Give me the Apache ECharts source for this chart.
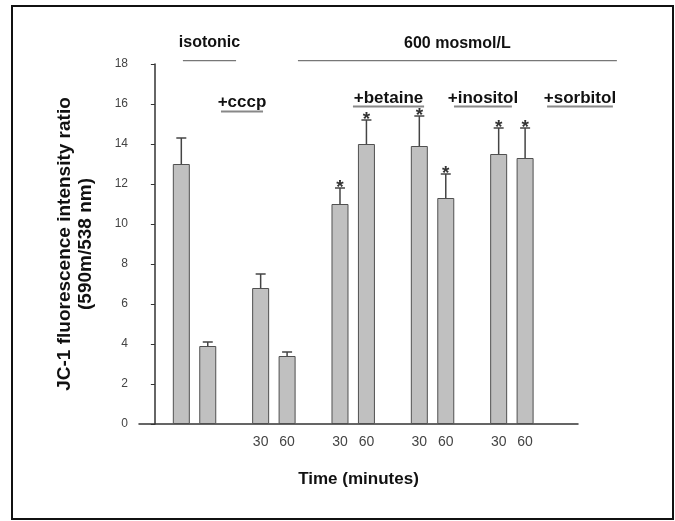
<!DOCTYPE html>
<html>
<head>
<meta charset="utf-8">
<script src="https://cdn.jsdelivr.net/npm/echarts@6/dist/echarts.min.js"></script>
<style>
html, body { margin: 0; padding: 0; background: #fff; }
#chart { width: 675px; height: 521px; }
</style>
</head>
<body>
<div id="chart"></div>
<script>
// bar positions on a numeric x scale (gaps between groups)
const xPos = [1, 2, 4, 5, 7, 8, 10, 11, 13, 14];
const means = [13.0, 3.9, 6.8, 3.4, 11.0, 14.0, 13.9, 11.3, 13.5, 13.3];
const upper = [14.3, 4.1, 7.5, 3.6, 11.8, 15.2, 15.4, 12.5, 14.8, 14.8];
const star = [false, false, false, false, true, true, true, true, true, true];
const timeLabels = { 4: '30', 5: '60', 7: '30', 8: '60', 10: '30', 11: '60', 13: '30', 14: '60' };

// group annotations
const groupNames = ['isotonic', '600 mosmol/L', '+cccp', '+betaine', '+inositol', '+sorbitol'];
const groupFrom = [1.06, 5.41, 2.5, 7.49, 11.31, 14.83];
const groupTo = [3.07, 17.47, 4.09, 10.18, 13.5, 17.32];
const groupLineY = [18.17, 18.17, 15.63, 15.88, 15.88, 15.88];
const groupTextY = [19.08, 19.02, 16.1, 16.3, 16.3, 16.3];

const chart = echarts.init(document.getElementById('chart'));
const font = 'Liberation Sans, Arial, sans-serif';

const barData = xPos.map((x, i) => [x, means[i]]);
const errData = xPos.map((x, i) => [x, means[i], upper[i], star[i] ? 1 : 0]);
const annData = groupNames.map((n, i) => [groupFrom[i], groupTo[i], groupLineY[i], groupTextY[i], i]);

chart.setOption({
  animation: false,
  graphic: [{
    type: 'rect',
    shape: { x: 12, y: 6, width: 661, height: 513 },
    style: { fill: 'none', stroke: '#111', lineWidth: 2 }
  }],
  grid: { left: 139, right: 97, top: 64, bottom: 97 },
  xAxis: {
    type: 'value',
    min: -0.6,
    max: 16,
    splitLine: { show: false },
    axisLine: { show: true, onZero: false, lineStyle: { color: '#333', width: 1.5 } },
    axisTick: { show: false },
    axisLabel: {
      customValues: Object.keys(timeLabels).map(Number),
      formatter: v => timeLabels[v] || '',
      color: '#444', fontSize: 14, fontFamily: font, margin: 11
    },
    name: 'Time (minutes)',
    nameLocation: 'middle',
    nameGap: 47,
    nameTextStyle: { color: '#111', fontSize: 17, fontWeight: 'bold', fontFamily: font }
  },
  yAxis: {
    type: 'value',
    min: 0,
    max: 18,
    interval: 2,
    splitLine: { show: false },
    axisLine: { show: true, lineStyle: { color: '#333', width: 1.5 } },
    axisTick: { show: true, length: 4, lineStyle: { color: '#333' } },
    axisLabel: { color: '#444', fontSize: 12, fontFamily: font, margin: 11 },
    name: 'JC-1 fluorescence intensity ratio\n(590m/538 nm)',
    nameLocation: 'middle',
    nameRotate: 90,
    nameGap: 43,
    nameTextStyle: { color: '#111', fontSize: 19, fontWeight: 'bold', fontFamily: font, lineHeight: 21 }
  },
  series: [
    {
      type: 'bar',
      data: barData,
      barWidth: 17,
      itemStyle: { color: '#c0c0c0', borderColor: '#505050', borderWidth: 1 }
    },
    {
      type: 'custom',
      data: errData,
      z: 3,
      renderItem: function (params, api) {
        const top = api.coord([api.value(0), api.value(1)]);
        const hi = api.coord([api.value(0), api.value(2)]);
        const children = [
          { type: 'line', shape: { x1: top[0], y1: top[1], x2: hi[0], y2: hi[1] }, style: { stroke: '#444', lineWidth: 1.5 } },
          { type: 'line', shape: { x1: hi[0] - 5, y1: hi[1], x2: hi[0] + 5, y2: hi[1] }, style: { stroke: '#444', lineWidth: 1.5 } }
        ];
        if (api.value(3)) {
          children.push({
            type: 'text',
            style: { text: '*', x: hi[0], y: hi[1] + 9, align: 'center', verticalAlign: 'bottom', fontSize: 19, fontWeight: 'bold', fontFamily: font, fill: '#333' }
          });
        }
        return { type: 'group', children: children };
      }
    },
    {
      type: 'custom',
      data: annData,
      clip: false,
      renderItem: function (params, api) {
        const a = api.coord([api.value(0), api.value(2)]);
        const b = api.coord([api.value(1), api.value(2)]);
        const i = api.value(4);
        const t = api.coord([(api.value(0) + api.value(1)) / 2, api.value(3)]);
        const big = i < 2;
        return {
          type: 'group',
          children: [
            { type: 'line', shape: { x1: a[0], y1: a[1], x2: b[0], y2: b[1] }, style: { stroke: big ? '#777' : '#888', lineWidth: big ? 1.2 : 2 } },
            { type: 'text', style: { text: groupNames[i], x: t[0], y: t[1], align: 'center', verticalAlign: 'middle', fontSize: big ? 16 : 17, fontWeight: 'bold', fontFamily: font, fill: '#111' } }
          ]
        };
      }
    }
  ]
});
</script>
</body>
</html>
